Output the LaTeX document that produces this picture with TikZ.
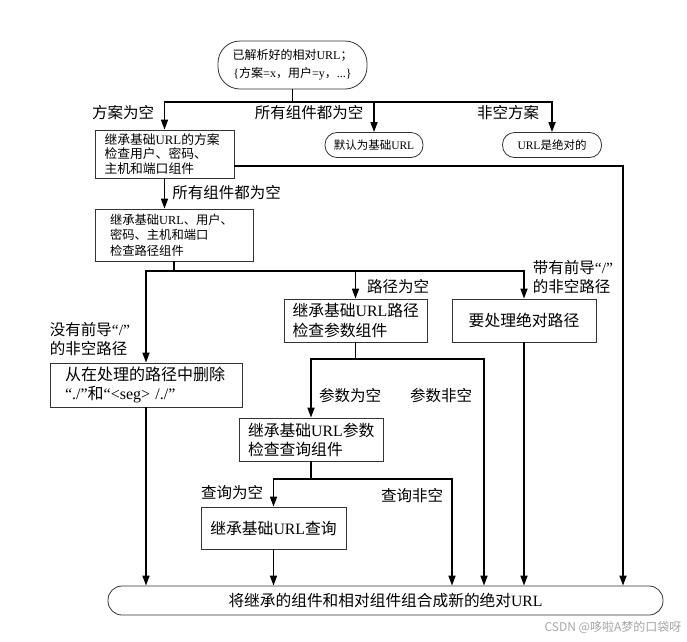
\documentclass[tikz,border=0pt]{standalone}
\usepackage{fontspec}
\setmainfont{Noto Sans CJK SC}
\newfontfamily\latfont{Liberation Serif}
\newcommand\latn[1]{{\latfont #1}}
\usetikzlibrary{arrows.meta}
\begin{document}
\begin{tikzpicture}[x=1pt,y=-1pt,
  box/.style={draw=black!80,line width=0.8pt,rectangle,inner sep=2pt},
  pill/.style={draw=black!80,line width=0.8pt,rounded corners=#1,inner sep=2pt},
  conn/.style={line width=1.6pt},
  arr/.style={line width=1.6pt,-{Triangle[length=10pt,width=7pt]}},
  lbl/.style={font=\fontsize{15.5}{19}\selectfont,inner sep=0pt}]
\useasboundingbox (0,0) rectangle (687,641);
% boxes
\node (parsed) [pill=22pt,minimum width=149pt,minimum height=48pt,align=center,font=\fontsize{12}{18}\selectfont] at (292.5,65) {已解析好的相对\latn{URL}；\\\latn{\{}方案\latn{=x}，用户\latn{=y}，\latn{...\}}};
\node (base) [pill=12pt,minimum width=98pt,minimum height=25pt,font=\fontsize{11.5}{13}\selectfont] at (374,145) {默认为基础\latn{URL}};
\node (absolute) [pill=12pt,minimum width=99pt,minimum height=25pt,font=\fontsize{11.5}{13}\selectfont] at (552,145) {\latn{URL}是绝对的};
\node (scheme) [box,minimum width=139pt,minimum height=48pt,text width=120pt,align=left,font=\fontsize{12.8}{14.5}\selectfont] at (164.5,154) {继承基础\latn{URL}的方案\\检查用户、密码、\\主机和端口组件};
\node (netloc) [box,minimum width=158pt,minimum height=52pt,text width=128pt,align=left,font=\fontsize{12.3}{15.5}\selectfont] at (174,235) {继承基础\latn{URL}、用户、\\密码、主机和端口\\检查路径组件};
\node (dots) [box,minimum width=192pt,minimum height=44pt,text width=162pt,align=left,font=\fontsize{16}{19}\selectfont] at (146,385) {从在处理的路径中删除\\\latn{“./”}和\latn{“<seg> /./”}};
\node (path) [box,minimum width=143pt,minimum height=43pt,text width=126pt,align=left,font=\fontsize{15.8}{20}\selectfont] at (355.5,320.5) {继承基础\latn{URL}路径\\检查参数组件};
\node (abspath) [box,minimum width=144pt,minimum height=43pt,font=\fontsize{15.8}{20}\selectfont] at (524,320.5) {要处理绝对路径};
\node (params) [box,minimum width=144pt,minimum height=43pt,text width=126pt,align=left,font=\fontsize{15.8}{19}\selectfont] at (311,439.5) {继承基础\latn{URL}参数\\检查查询组件};
\node (query) [box,minimum width=145pt,minimum height=42pt,font=\fontsize{15.8}{20}\selectfont] at (273.5,528) {继承基础\latn{URL}查询};
\node (merge) [pill=14pt,minimum width=555pt,minimum height=29pt,font=\fontsize{15.7}{18}\selectfont] at (385.5,600.5) {将继承的组件和相对组件组合成新的绝对\latn{URL}};
% labels
\node[lbl] (lschemeempty) at (123,113) {方案为空};
\node[lbl] (lallempty) at (309,113) {所有组件都为空};
\node[lbl] (lscheme) at (508,113) {非空方案};
\node[lbl] (lallempty2) at (226.5,193) {所有组件都为空};
\node[lbl] (lpathempty) at (398,287) {路径为空};
\node[lbl,align=left] (lrooted) at (573,277.5) {带有前导\latn{“/”}\\的非空路径};
\node[lbl,align=left] (lrelative) at (90,339) {没有前导\latn{“/”}\\的非空路径};
\node[lbl] (lparamsempty) at (350,396) {参数为空};
\node[lbl] (lparams) at (441,396) {参数非空};
\node[lbl] (lqueryempty) at (232,493) {查询为空};
\node[lbl] (lquery) at (412,496) {查询非空};
\node (mark) [font=\fontsize{12}{14}\selectfont,text=black!35] at (613,627) {CSDN @哆啦A梦的口袋呀};
% connectors
\coordinate (bar1) at (0,102);
\coordinate (bar2) at (0,271);
\coordinate (bar3) at (0,359);
\coordinate (bar4) at (0,479);
\draw[conn] (parsed.south) -- (parsed.south |- bar1);
\draw[arr] (parsed.south |- bar1) -| (scheme.north);
\draw[arr] (parsed.south |- bar1) -| (absolute.north);
\draw[arr] (base.north |- bar1) -- (base.north);
\draw[arr] ([yshift=-12pt]scheme.east) -| ([xshift=237.5pt]merge.north);
\draw[arr] (scheme.south) -- (scheme.south |- netloc.north);
\draw[conn] (netloc.south) -- (netloc.south |- bar2);
\draw[arr] (netloc.south |- bar2) -| (dots.north);
\draw[arr] (netloc.south |- bar2) -| (abspath.north);
\draw[arr] (path.north |- bar2) -- (path.north);
\draw[arr] (dots.south) -- (dots.south |- merge.north);
\draw[arr] (abspath.south) -- (abspath.south |- merge.north);
\draw[conn] (path.south) -- (path.south |- bar3);
\draw[arr] (path.south |- bar3) -| (params.north);
\draw[arr] (path.south |- bar3) -| ([xshift=98.5pt]merge.north);
\draw[conn] (params.south) -- (params.south |- bar4);
\draw[arr] (params.south |- bar4) -| (query.north);
\draw[arr] (params.south |- bar4) -| ([xshift=66.5pt]merge.north);
\draw[arr] (query.south) -- (query.south |- merge.north);
\end{tikzpicture}
\end{document}
